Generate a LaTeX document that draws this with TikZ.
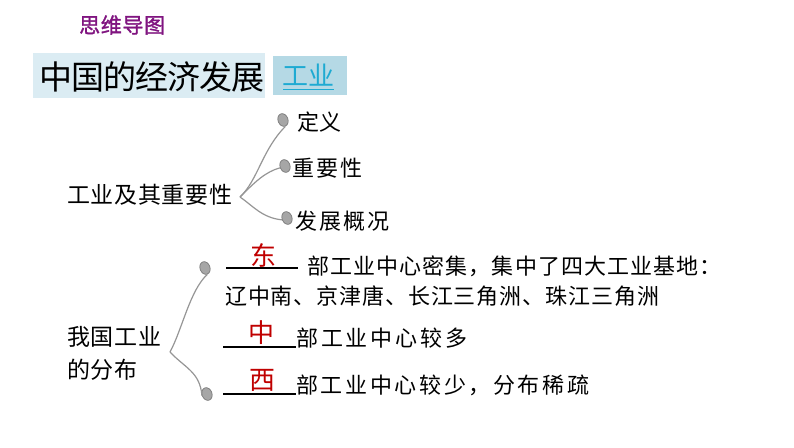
\documentclass[tikz,border=0pt]{standalone}
\usepackage{fontspec}
\newfontfamily\cjk{Noto Sans CJK SC}
\newcommand{\cjks}[2]{\cjk\addfontfeatures{LetterSpace=#1}\fontsize{#2}{#2}\selectfont}
\definecolor{titlebg}{RGB}{219,236,243}
\definecolor{tagbg}{RGB}{181,217,229}
\definecolor{tagfg}{RGB}{30,170,210}
\definecolor{mmpurple}{RGB}{128,20,128}
\definecolor{ansred}{RGB}{192,0,0}
\definecolor{branch}{RGB}{150,150,150}
\usetikzlibrary{shapes.geometric}
\tikzset{
  txt/.style={anchor=west,inner sep=0pt,text=black},
  bulb/.style={ellipse,minimum width=10pt,minimum height=13pt,inner sep=0pt,fill=gray!70,draw=gray!95!black,line width=0.7pt,rotate=20},
  br/.style={draw=branch,line width=1.2pt},
  ans/.style={inner sep=0pt,text=ansred},
  blank/.style={draw=black,line width=1.2pt}
}
\begin{document}
\begin{tikzpicture}[x=1pt,y=-1pt]
\useasboundingbox[fill=white] (0,0) rectangle (794,447);
% header
\node[txt,text=mmpurple] (mm) at (79,25) {\cjk\addfontfeatures{LetterSpace=3,FakeBold=1.5}\fontsize{21}{21}\selectfont 思维导图};
\fill[titlebg] (33,53) rectangle (265,98);
\node[txt] (title) at (39,77) {\cjks{-3}{33}中国的经济发展};
\fill[tagbg] (273,56) rectangle (347,95);
\node[txt,text=tagfg] (tag) at (282,75) {\cjks{0}{26}工业};
\draw[tagfg,line width=0.8pt] (283,89) -- (334,89);
% part 1
\node[txt] (p1) at (67,195) {\cjks{3}{23}工业及其重要性};
\coordinate (j1) at (240,197);
\node[bulb] (b1) at (283,120) {};
\node[bulb] (b2) at (285,166) {};
\node[bulb] (b3) at (287,218) {};
\draw[br] (j1) .. controls (258,180) and (262,150) .. (b1.south);
\draw[br] (j1) .. controls (255,182) and (265,172) .. (b2.west);
\draw[br] (j1) .. controls (252,205) and (262,218) .. (b3.west);
\node[txt] (d1) at (297,122) {\cjks{0}{22}定义};
\node[txt] (d2) at (292,168) {\cjks{9}{22}重要性};
\node[txt] (d3) at (295,221) {\cjks{10}{22}发展概况};
% part 2
\node[txt] (p2a) at (67,337) {\cjks{3}{23}我国工业};
\node[txt] (p2b) at (67,370) {\cjks{3}{23}的分布};
\coordinate (j2) at (170,352);
\node[bulb] (c1) at (205,268) {};
\node[bulb] (c2) at (207,394) {};
\draw[br] (j2) .. controls (182,330) and (190,290) .. (c1.south);
\draw[br] (j2) .. controls (185,368) and (200,372) .. (c2.west);
% lines
\coordinate (u1a) at (226,268); \coordinate (u1b) at (298,268);
\draw[blank] (u1a) -- (u1b);
\node[ans] (a1) at (263,255) {\cjks{0}{26}东};
\node[txt] (l1) at (307,266) {\cjks{5}{22}部工业中心密集，集中了四大工业基地：};
\node[txt] (l2) at (225,296) {\cjks{4}{22}辽中南、京津唐、长江三角洲、珠江三角洲};
\coordinate (u3a) at (223,347); \coordinate (u3b) at (296,347);
\draw[blank] (u3a) -- (u3b);
\node[ans] (a3) at (261,333) {\cjks{0}{26}中};
\node[txt] (l3) at (296,338) {\cjks{13}{22}部工业中心较多};
\coordinate (u4a) at (223,394); \coordinate (u4b) at (296,394);
\draw[blank] (u4a) -- (u4b);
\node[ans] (a4) at (262,380) {\cjks{0}{26}西};
\node[txt] (l4) at (296,385) {\cjks{12}{22}部工业中心较少，分布稀疏};
\end{tikzpicture}
\end{document}
